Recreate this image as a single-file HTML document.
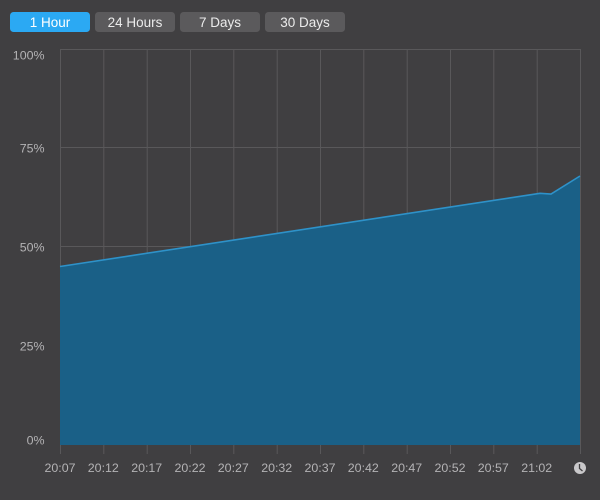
<!DOCTYPE html>
<html><head><meta charset="utf-8"><style>
html,body{margin:0;padding:0;background:#403f41;width:600px;height:500px;overflow:hidden}
svg{display:block}
text{font-family:"Liberation Sans",sans-serif}
</style></head><body>
<svg width="600" height="500" viewBox="0 0 600 500" xmlns="http://www.w3.org/2000/svg">
<rect width="600" height="500" fill="#403f41"/>
<!-- buttons -->
<rect x="10" y="12" width="80" height="20" rx="3.5" fill="#2ba9f3"/>
<rect x="95" y="12" width="80" height="20" rx="3.5" fill="#5b5a5c"/>
<rect x="180" y="12" width="80" height="20" rx="3.5" fill="#5b5a5c"/>
<rect x="265" y="12" width="80" height="20" rx="3.5" fill="#5b5a5c"/>
<g font-size="13.5" fill="#ffffff" text-anchor="middle">
<text x="50" y="26.8">1 Hour</text>
<text x="135" y="26.8" fill="#ebebeb">24 Hours</text>
<text x="220" y="26.8" fill="#ebebeb">7 Days</text>
<text x="305" y="26.8" fill="#ebebeb">30 Days</text>
</g>
<!-- grid -->
<g stroke="#59585a" stroke-width="1">
<line x1="60" y1="49.5" x2="580" y2="49.5"/>
<line x1="60" y1="147.5" x2="580" y2="147.5"/>
<line x1="60" y1="246.5" x2="580" y2="246.5"/>
<line x1="60" y1="345.5" x2="580" y2="345.5"/>
<line x1="60.5" y1="49" x2="60.5" y2="454"/>
<line x1="103.8" y1="49" x2="103.8" y2="454"/>
<line x1="147.2" y1="49" x2="147.2" y2="454"/>
<line x1="190.5" y1="49" x2="190.5" y2="454"/>
<line x1="233.8" y1="49" x2="233.8" y2="454"/>
<line x1="277.2" y1="49" x2="277.2" y2="454"/>
<line x1="320.5" y1="49" x2="320.5" y2="454"/>
<line x1="363.8" y1="49" x2="363.8" y2="454"/>
<line x1="407.2" y1="49" x2="407.2" y2="454"/>
<line x1="450.5" y1="49" x2="450.5" y2="454"/>
<line x1="493.8" y1="49" x2="493.8" y2="454"/>
<line x1="537.2" y1="49" x2="537.2" y2="454"/>
<line x1="580.5" y1="49" x2="580.5" y2="454"/>
</g>
<!-- area -->
<path d="M60,266.5 L540,193.3 L551,194 L580,176 L580,445 L60,445 Z" fill="#1a6087"/>
<path d="M60,266.5 L540,193.3 L551,194 L580,176" fill="none" stroke="#2e92c9" stroke-width="1.6"/>
<!-- y labels -->
<g font-size="12.4" fill="#b4b3b5" text-anchor="end">
<text x="44.5" y="59.3">100%</text>
<text x="44.5" y="152.3">75%</text>
<text x="44.5" y="251.3">50%</text>
<text x="44.5" y="350.3">25%</text>
<text x="44.5" y="444.3">0%</text>
</g>
<!-- x labels -->
<g font-size="12.4" fill="#b4b3b5" text-anchor="middle">
<text x="60" y="472.2">20:07</text>
<text x="103.3" y="472.2">20:12</text>
<text x="146.7" y="472.2">20:17</text>
<text x="190" y="472.2">20:22</text>
<text x="233.3" y="472.2">20:27</text>
<text x="276.7" y="472.2">20:32</text>
<text x="320" y="472.2">20:37</text>
<text x="363.3" y="472.2">20:42</text>
<text x="406.7" y="472.2">20:47</text>
<text x="450" y="472.2">20:52</text>
<text x="493.3" y="472.2">20:57</text>
<text x="536.7" y="472.2">21:02</text>
</g>
<!-- clock icon -->
<circle cx="580" cy="468" r="6" fill="#c9c8ca"/>
<path d="M579.5,464 L579.5,468.5 L582.5,471" fill="none" stroke="#403f41" stroke-width="1.3"/>
</svg>
</body></html>
